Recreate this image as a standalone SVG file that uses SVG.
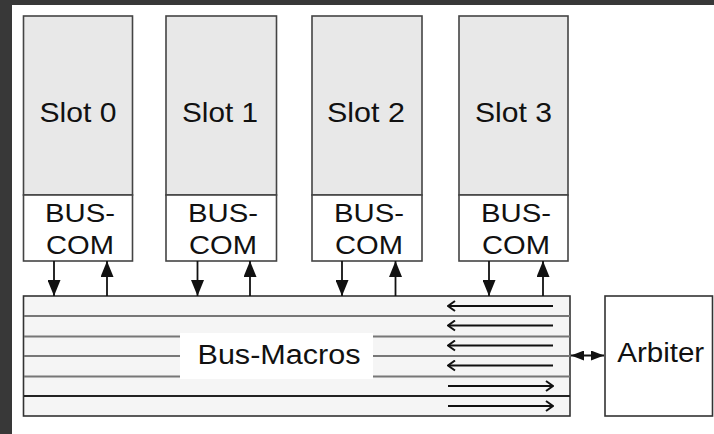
<svg xmlns="http://www.w3.org/2000/svg" width="714" height="434" viewBox="0 0 714 434">
<defs>
<style>
.lbl{font-family:"Liberation Sans",Arial,sans-serif;fill:#111;text-anchor:middle}
.slot{fill:#e8e8e8;stroke:#444;stroke-width:1.6}
.bc{fill:#fff;stroke:#444;stroke-width:1.6}
.conn{stroke:#111;stroke-width:1.8;fill:none}
.bl{stroke:#777;stroke-width:2.2}
</style>
<marker id="tri" markerUnits="userSpaceOnUse" markerWidth="16" markerHeight="13" viewBox="0 0 16 13" refX="16" refY="6.5" orient="auto">
<path d="M0,0 L16,6.5 L0,13 Z" fill="#111"/>
</marker>
<marker id="open" markerUnits="userSpaceOnUse" markerWidth="9" markerHeight="12" viewBox="0 0 9 12" refX="8" refY="6" orient="auto">
<path d="M1,1 L8,6 L1,11" fill="none" stroke="#111" stroke-width="2"/>
</marker>
<marker id="dtri" markerUnits="userSpaceOnUse" markerWidth="13" markerHeight="10" viewBox="0 0 13 10" refX="13" refY="5" orient="auto-start-reverse">
<path d="M0,0 L13,5 L0,10 Z" fill="#111"/>
</marker>
</defs>
<rect x="0" y="0" width="714" height="434" fill="#383838"/>
<rect x="12" y="5" width="702" height="429" fill="#fff"/>

<g id="slot0">
<rect class="slot" x="23.5" y="16" width="109" height="179"/>
<rect class="bc" x="23.5" y="195" width="109" height="66"/>
<text class="lbl" x="78" y="121.5" font-size="28" textLength="77" lengthAdjust="spacingAndGlyphs">Slot 0</text>
<text class="lbl" x="80" y="221.5" font-size="26.5" textLength="70" lengthAdjust="spacingAndGlyphs">BUS-</text>
<text class="lbl" x="80" y="254" font-size="26.5" textLength="68" lengthAdjust="spacingAndGlyphs">COM</text>
</g>
<g id="slot1">
<rect class="slot" x="166" y="16" width="110.5" height="179"/>
<rect class="bc" x="166" y="195" width="110.5" height="66"/>
<text class="lbl" x="220" y="121.5" font-size="28" textLength="76" lengthAdjust="spacingAndGlyphs">Slot 1</text>
<text class="lbl" x="223" y="221.5" font-size="26.5" textLength="70" lengthAdjust="spacingAndGlyphs">BUS-</text>
<text class="lbl" x="223" y="254" font-size="26.5" textLength="68" lengthAdjust="spacingAndGlyphs">COM</text>
</g>
<g id="slot2">
<rect class="slot" x="312" y="16" width="110" height="179"/>
<rect class="bc" x="312" y="195" width="110" height="66"/>
<text class="lbl" x="366" y="121.5" font-size="28" textLength="78" lengthAdjust="spacingAndGlyphs">Slot 2</text>
<text class="lbl" x="369" y="221.5" font-size="26.5" textLength="70" lengthAdjust="spacingAndGlyphs">BUS-</text>
<text class="lbl" x="369" y="254" font-size="26.5" textLength="68" lengthAdjust="spacingAndGlyphs">COM</text>
</g>
<g id="slot3">
<rect class="slot" x="459" y="16" width="109" height="179"/>
<rect class="bc" x="459" y="195" width="109" height="66"/>
<text class="lbl" x="513.5" y="121.5" font-size="28" textLength="77" lengthAdjust="spacingAndGlyphs">Slot 3</text>
<text class="lbl" x="516" y="221.5" font-size="26.5" textLength="70" lengthAdjust="spacingAndGlyphs">BUS-</text>
<text class="lbl" x="516" y="254" font-size="26.5" textLength="68" lengthAdjust="spacingAndGlyphs">COM</text>
</g>

<g id="busmacros">
<rect x="23.5" y="296" width="546.5" height="120" fill="#f5f5f5" stroke="#333" stroke-width="1.6"/>
<line class="bl" x1="24" y1="316" x2="570" y2="316"/>
<line class="bl" x1="24" y1="336.5" x2="180" y2="336.5"/>
<line class="bl" x1="24" y1="356" x2="180" y2="356"/>
<line class="bl" x1="24" y1="376.5" x2="180" y2="376.5"/>
<line class="bl" x1="373" y1="336.5" x2="570" y2="336.5"/>
<line class="bl" x1="373" y1="356" x2="570" y2="356"/>
<line class="bl" x1="373" y1="376.5" x2="570" y2="376.5"/>
<line x1="24" y1="396" x2="570" y2="396" stroke="#222" stroke-width="1.8"/>
<rect x="180" y="333" width="193" height="46" fill="#fff"/>
<text class="lbl" x="279" y="364.3" font-size="27" textLength="163" lengthAdjust="spacingAndGlyphs">Bus-Macros</text>
</g>

<g id="arbiter">
<rect x="605" y="296" width="107.5" height="120" fill="#fff" stroke="#333" stroke-width="1.6"/>
<text class="lbl" x="660.7" y="362.3" font-size="27.5" textLength="87" lengthAdjust="spacingAndGlyphs">Arbiter</text>
</g>

<g id="connectors">
<line class="conn" x1="54" y1="261" x2="54" y2="296" marker-end="url(#tri)"/>
<line class="conn" x1="107" y1="296" x2="107" y2="261" marker-end="url(#tri)"/>
<line class="conn" x1="197.5" y1="261" x2="197.5" y2="296" marker-end="url(#tri)"/>
<line class="conn" x1="250" y1="296" x2="250" y2="261" marker-end="url(#tri)"/>
<line class="conn" x1="342" y1="261" x2="342" y2="296" marker-end="url(#tri)"/>
<line class="conn" x1="395.5" y1="296" x2="395.5" y2="261" marker-end="url(#tri)"/>
<line class="conn" x1="489" y1="261" x2="489" y2="296" marker-end="url(#tri)"/>
<line class="conn" x1="543" y1="296" x2="543" y2="261" marker-end="url(#tri)"/>
<line class="conn" x1="553" y1="306" x2="448" y2="306" marker-end="url(#open)"/>
<line class="conn" x1="553" y1="325.5" x2="448" y2="325.5" marker-end="url(#open)"/>
<line class="conn" x1="553" y1="345.5" x2="448" y2="345.5" marker-end="url(#open)"/>
<line class="conn" x1="553" y1="365.5" x2="448" y2="365.5" marker-end="url(#open)"/>
<line class="conn" x1="448" y1="386" x2="553" y2="386" marker-end="url(#open)"/>
<line class="conn" x1="448" y1="406" x2="553" y2="406" marker-end="url(#open)"/>
<line class="conn" x1="571" y1="355.5" x2="604" y2="355.5" marker-start="url(#dtri)" marker-end="url(#dtri)"/>
</g>
</svg>
